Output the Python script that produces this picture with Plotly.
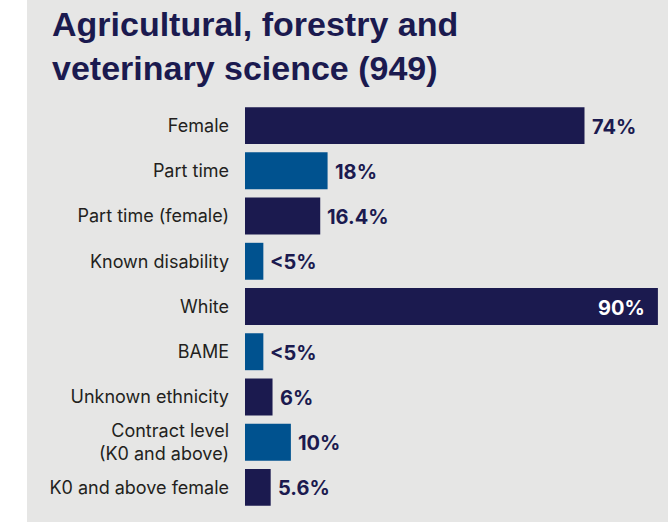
import plotly.graph_objects as go

categories = ["Female", "Part time", "Part time (female)", "Known disability", "White",
              "BAME", "Unknown ethnicity", "Contract level<br>(K0 and above)", "K0 and above female"]
values = [74, 18, 16.4, 4, 90, 4, 6, 10, 5.6]
value_labels = ["74%", "18%", "16.4%", "<5%", "90%", "<5%", "6%", "10%", "5.6%"]
bar_colors = ["#1b1a4f", "#00528f", "#1b1a4f", "#00528f", "#1b1a4f",
              "#00528f", "#1b1a4f", "#00528f", "#1b1a4f"]
title_text = "Agricultural, forestry and<br>veterinary science (949)"

NAVY = "#1b1a4f"
PANEL = "#e6e6e5"

W, H = 668, 522
ML, MR, MT, MB = 245, 0, 103, 12
plot_w = W - ML - MR

fig = go.Figure(go.Bar(
    y=categories, x=values, orientation="h",
    marker=dict(color=bar_colors, line=dict(width=0)),
    hoverinfo="skip",
))

annotations = []
for cat, v, lab in zip(categories, values, value_labels):
    inside = v >= 85
    annotations.append(dict(
        x=v, y=cat, xref="x", yref="y", text=lab, showarrow=False,
        xanchor="right" if inside else "left",
        xshift=-11 if inside else 5,
        yshift=-1,
        font=dict(family="Inter, Roboto, sans-serif", size=20, weight="bold",
                  color="white" if inside else NAVY),
    ))

fig.update_layout(
    width=W, height=H,
    margin=dict(l=ML, r=MR, t=MT, b=MB),
    paper_bgcolor=PANEL, plot_bgcolor=PANEL,
    bargap=0.183,
    showlegend=False,
    title=dict(text=title_text, x=52 / W, xref="container", xanchor="left",
               y=1 - 36 / H, yref="container", yanchor="top",
               font=dict(family="Liberation Sans, Arial, sans-serif", size=34,
                         weight="bold", color=NAVY)),
    xaxis=dict(range=[0, 92.2], visible=False, fixedrange=True),
    yaxis=dict(autorange="reversed", showgrid=False, zeroline=False, showline=False,
               ticks="", ticklabelstandoff=15, fixedrange=True,
               tickfont=dict(family="Inter, Roboto, sans-serif", size=18, color="#231f20")),
    annotations=annotations,
    shapes=[dict(type="rect", xref="paper", yref="paper", layer="above",
                 x0=(0 - ML) / plot_w, x1=(27 - ML) / plot_w, y0=-0.2, y1=1.4,
                 fillcolor="white", line=dict(width=0))],
)

fig.write_html("out.html",
               config={"displayModeBar": False},
               post_script="document.body.style.margin='0';document.body.style.padding='0';")
